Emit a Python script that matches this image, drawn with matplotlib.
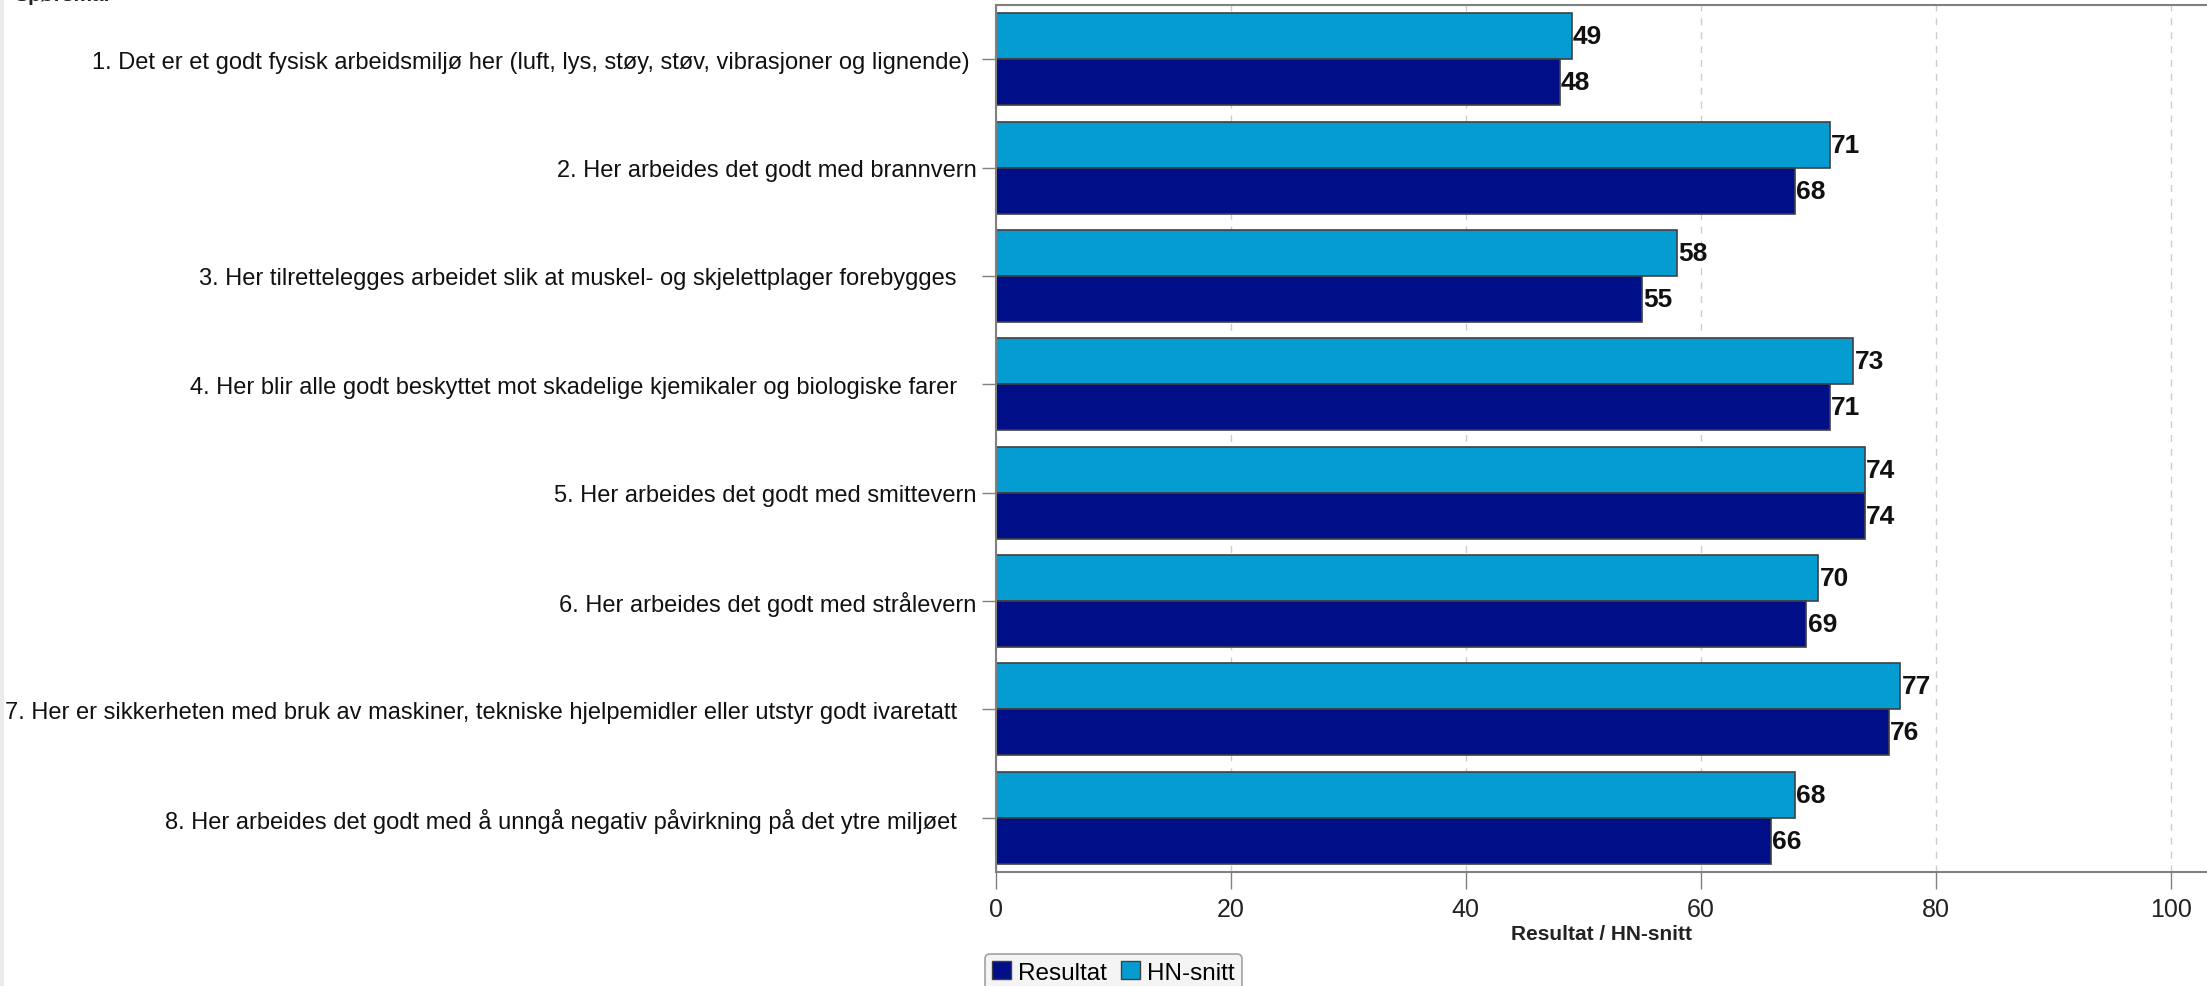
import matplotlib
matplotlib.use("Agg")
import matplotlib.pyplot as plt
from matplotlib.patches import Rectangle, Patch

plt.rcParams['font.family'] = ['Liberation Sans', 'DejaVu Sans']

sporsmal = [
    "1. Det er et godt fysisk arbeidsmiljø her (luft, lys, støy, støv, vibrasjoner og lignende) ",
    "2. Her arbeides det godt med brannvern",
    "3. Her tilrettelegges arbeidet slik at muskel- og skjelettplager forebygges   ",
    "4. Her blir alle godt beskyttet mot skadelige kjemikaler og biologiske farer   ",
    "5. Her arbeides det godt med smittevern",
    "6. Her arbeides det godt med strålevern",
    "7. Her er sikkerheten med bruk av maskiner, tekniske hjelpemidler eller utstyr godt ivaretatt   ",
    "8. Her arbeides det godt med å unngå negativ påvirkning på det ytre miljøet   ",
]
resultat = [48, 68, 55, 71, 74, 69, 76, 66]
hn_snitt = [49, 71, 58, 73, 74, 70, 77, 68]

farge_res = '#000e88'
farge_hn = '#059cd2'
kant = '#404040'

fig = plt.figure(figsize=(22.07, 9.87), dpi=100)
fig.patch.set_facecolor('white')
# grå stripe helt til venstre
fig.patches.append(Rectangle((0, 0), 4 / 2207, 1, transform=fig.transFigure,
                             facecolor='#ebebeb', edgecolor='none'))
fig.text(14 / 2207, 1 - 1 / 987, "Spørsmål", fontsize=15, fontweight='bold',
         va='baseline', ha='left', color='#222222')

ax = fig.add_axes([996 / 2207, 1 - 873 / 987, 1.0 - 996 / 2207, (873 - 6) / 987])

h = 0.425
pos = list(range(len(sporsmal)))
ax.barh([p - h / 2 for p in pos], hn_snitt, height=h, color=farge_hn,
        edgecolor=kant, linewidth=1.2, zorder=2)
ax.barh([p + h / 2 for p in pos], resultat, height=h, color=farge_res,
        edgecolor=kant, linewidth=1.2, zorder=2)

for p, v in zip(pos, hn_snitt):
    ax.text(v + 0.1, p - h / 2, str(v), va='center', ha='left',
            fontsize=19, fontweight='bold', color='#111111')
for p, v in zip(pos, resultat):
    ax.text(v + 0.1, p + h / 2, str(v), va='center', ha='left',
            fontsize=19, fontweight='bold', color='#111111')

ax.set_xlim(0, 103.1)
ax.set_ylim(7.5, -0.5)
ax.set_yticks(pos)
ax.set_yticklabels(sporsmal, fontsize=17, color='#111111')
ax.set_xticks([0, 20, 40, 60, 80, 100])
ax.tick_params(axis='x', direction='out', length=12, width=1, color='#808080',
               labelsize=18, labelcolor='#222222', pad=6)
ax.tick_params(axis='y', direction='out', length=10, width=1, color='#808080', pad=4)

ax.xaxis.grid(True, linestyle=(0, (5, 5)), color='#cccccc', linewidth=1)
ax.set_axisbelow(True)

for s in ['top', 'bottom', 'left']:
    ax.spines[s].set_color('#808080')
    ax.spines[s].set_linewidth(1.5)
ax.spines['right'].set_visible(False)

ax.set_xlabel("Resultat / HN-snitt", fontsize=15, fontweight='bold',
              color='#222222', labelpad=2)

handles = [Patch(facecolor=farge_res, edgecolor=kant, label='Resultat'),
           Patch(facecolor=farge_hn, edgecolor=kant, label='HN-snitt')]
leg = fig.legend(handles=handles, loc='upper left',
                 bbox_to_anchor=(985 / 2207, 1 - 955 / 987), ncol=2,
                 fontsize=17.5, frameon=True, fancybox=True, facecolor='#f2f2f2',
                 edgecolor='#8a8a8a', handlelength=0.75, handleheight=0.75,
                 handletextpad=0.3, columnspacing=0.6, borderpad=0.3,
                 borderaxespad=0)
leg.get_frame().set_linewidth(1.2)

fig.savefig("out.png", dpi=100)
